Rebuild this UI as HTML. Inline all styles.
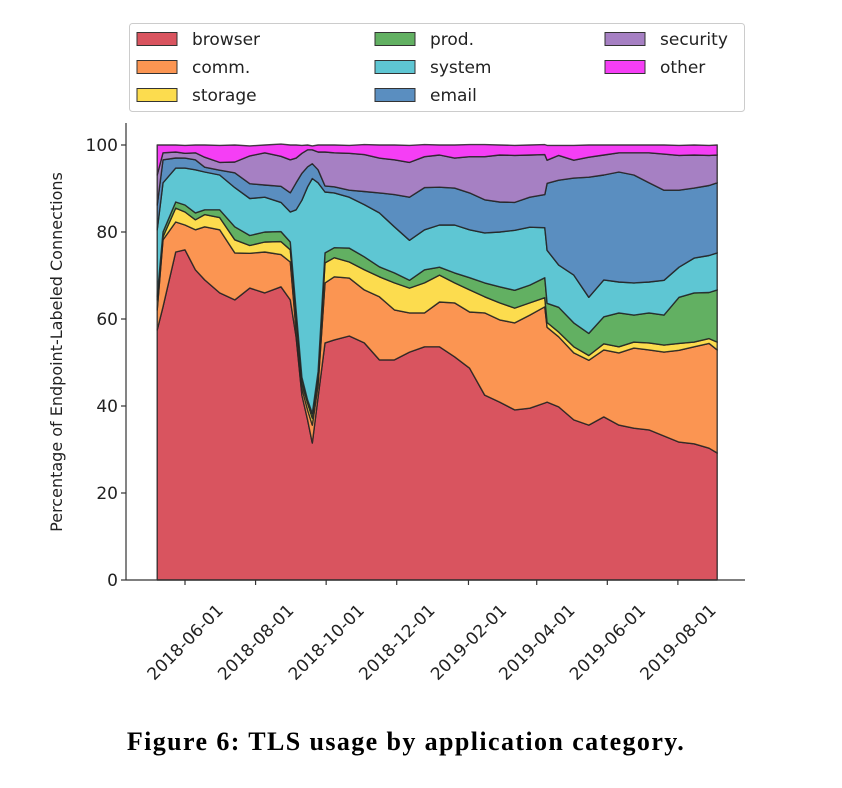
<!DOCTYPE html>
<html><head><meta charset="utf-8">
<style>
body{margin:0;background:#fff;}
svg{display:block;font-family:"DejaVu Sans","Liberation Sans",sans-serif;}
</style></head>
<body>
<svg id="chart" width="842" height="788" viewBox="0 0 842 788" xmlns="http://www.w3.org/2000/svg">
  <g id="areas"></g>
  <g id="axes"></g>
  <g id="legend"></g>
  <text x="62" y="352" font-size="16" text-anchor="middle" fill="#222" transform="rotate(-90 62 352)">Percentage of Endpoint-Labeled Connections</text>
  <text x="406" y="750" font-size="26" font-weight="bold" text-anchor="middle" fill="#000" letter-spacing="1.4" style="font-family:'Liberation Serif',serif">Figure 6: TLS usage by application category.</text>
</svg>
<script>
const startDate = "2018-05-08";
const dayOffsets = [0,5,16,24,33,41,54,67,80,93,107,115,120,125,130,134,139,145,153,166,179,192,205,218,231,244,257,270,283,296,309,322,335,337,347,360,373,386,399,412,425,438,451,464,477,484];
const categories = ["browser","comm.","storage","prod.","system","email","security","other"];
const browser = [57.5,62.8,75.4,75.9,71.3,69.0,66.0,64.4,67.1,66.0,67.4,64.4,55.9,42.5,36.8,31.5,42.1,54.5,55.2,56.1,54.5,50.6,50.6,52.4,53.6,53.6,51.3,48.7,42.5,40.9,39.1,39.5,40.7,40.9,39.8,36.8,35.6,37.5,35.6,34.9,34.5,33.1,31.7,31.3,30.3,29.2];
const comm = [4.6,15.4,6.9,5.7,9.2,12.2,14.5,10.8,8.0,9.4,7.4,8.7,1.6,1.6,2.3,4.1,2.8,13.8,14.5,13.3,12.2,14.5,11.5,9.0,7.8,10.3,12.4,12.9,18.9,18.9,20.0,21.4,22.1,17.2,16.1,15.4,14.9,15.4,16.6,18.4,18.4,19.3,21.1,22.3,24.1,23.7];
const storage = [2.3,0.7,3.2,3.0,2.3,2.8,2.8,3.0,1.8,2.3,3.0,2.8,3.0,1.1,1.6,1.6,1.6,4.6,4.4,3.7,4.6,4.6,6.2,5.7,6.9,6.2,4.6,5.1,3.7,3.9,3.4,2.8,2.1,1.1,1.1,1.4,1.1,1.4,1.4,1.4,1.6,1.6,1.6,1.1,1.1,1.8];
const prod = [0.7,1.1,1.4,1.6,1.6,1.1,1.8,3.0,2.3,2.3,2.3,1.8,1.6,1.4,0.7,1.1,1.4,2.3,2.3,3.2,3.0,2.3,2.3,1.8,3.0,1.8,2.3,2.8,3.2,3.7,4.1,4.1,4.6,4.4,5.7,5.5,5.1,6.2,7.8,6.2,6.9,6.9,10.6,11.3,10.6,12.0];
const system = [15.4,11.3,7.8,8.5,9.9,8.7,8.0,9.0,8.5,8.0,6.7,6.9,23.0,40.7,49.0,54.0,43.4,14.0,12.6,11.7,12.0,12.4,10.6,9.2,9.2,9.7,11.0,11.0,11.5,12.6,13.8,13.3,11.5,12.2,9.7,11.0,8.3,8.5,7.1,7.4,7.1,8.0,6.9,8.0,8.5,8.5];
const email = [5.7,5.3,2.3,2.3,2.3,1.1,1.1,3.4,3.4,2.8,3.7,4.4,6.2,6.2,4.6,3.4,3.0,1.4,1.4,1.6,3.0,4.6,7.4,9.9,9.7,8.7,8.5,8.5,7.6,6.9,6.4,6.9,7.6,15.4,19.5,22.3,27.6,24.1,25.3,24.8,22.8,20.7,17.7,16.1,16.1,16.1];
const security = [6.9,1.6,1.4,1.1,1.6,2.3,1.8,2.5,6.4,7.4,6.9,7.6,5.7,4.6,3.9,3.2,4.1,7.8,7.8,8.5,8.5,8.0,8.0,8.0,7.1,7.4,6.9,8.3,9.9,10.8,10.8,9.7,9.2,5.3,5.7,4.1,4.6,4.6,4.4,5.1,6.9,8.3,8.0,7.6,6.9,6.4];
const other = [6.9,1.8,1.6,1.8,1.8,2.8,3.9,3.9,2.3,1.8,2.8,3.4,3.0,1.8,1.1,0.9,1.6,1.6,1.8,1.8,2.3,3.0,3.4,3.9,2.8,2.3,3.0,2.8,2.8,2.3,2.3,2.3,2.3,3.4,2.3,3.4,2.8,2.3,1.8,1.8,1.8,2.1,2.3,2.3,2.3,2.3];
const colors = ["#d9545f","#fb9552","#fcdc4e","#62b062","#5ec6d3","#5a8ec0","#a680c3","#f53ef5"];
const yTicks = [0,20,40,60,80,100];
const xTickLabels = ["2018-06-01","2018-08-01","2018-10-01","2018-12-01","2019-02-01","2019-04-01","2019-06-01","2019-08-01"];

const NS = "http://www.w3.org/2000/svg";
const DAY = 86400000;
const t0 = Date.parse("2018-06-01");
const plotL = 126, plotR = 745, y0px = 580, pxPerUnit = 4.35, pxPerDay = 1.157, tickRef = 185;
function xScale(ms){ return tickRef + (ms - t0) / DAY * pxPerDay; }
function yScale(v){ return y0px - v * pxPerUnit; }
const startMs = Date.parse(startDate);
const xs = dayOffsets.map(d => xScale(startMs + d * DAY));
const series = [browser, comm, storage, prod, system, email, security, other];

function mk(tag, attrs, parent){
  const e = document.createElementNS(NS, tag);
  for (const k in attrs) e.setAttribute(k, attrs[k]);
  parent.appendChild(e);
  return e;
}

const areas = document.getElementById("areas");
let base = xs.map(() => 0);
series.forEach((vals, si) => {
  const top = base.map((b, i) => b + vals[i]);
  let d = "M" + xs[0].toFixed(1) + "," + yScale(base[0]).toFixed(1);
  for (let i = 0; i < xs.length; i++) d += "L" + xs[i].toFixed(1) + "," + yScale(top[i]).toFixed(1);
  for (let i = xs.length - 1; i >= 0; i--) d += "L" + xs[i].toFixed(1) + "," + yScale(base[i]).toFixed(1);
  d += "Z";
  const p = mk("path", {d: d, fill: colors[si], stroke: "#222", "stroke-width": "1.4", "stroke-opacity": "0.85", "stroke-linejoin": "round"}, areas);
  
  
  base = top;
});

const axes = document.getElementById("axes");
const ls = mk("line", {x1: plotL, y1: 123, x2: plotL, y2: y0px, stroke: "#333", "stroke-width": "1.2"}, axes);


const bs = mk("line", {x1: plotL, y1: y0px, x2: plotR, y2: y0px, stroke: "#333", "stroke-width": "1.2"}, axes);


yTicks.forEach(v => {
  const y = yScale(v);
  const tk = mk("line", {x1: plotL - 5, y1: y, x2: plotL, y2: y, stroke: "#333", "stroke-width": "1.2"}, axes);
  
  
  const tx = mk("text", {x: plotL - 8, y: y + 6, "font-size": "17", "text-anchor": "end", fill: "#222"}, axes);
  tx.textContent = v;
  
  
});
xTickLabels.forEach(lbl => {
  const x = xScale(Date.parse(lbl));
  const tk = mk("line", {x1: x, y1: y0px, x2: x, y2: y0px + 5, stroke: "#333", "stroke-width": "1.2"}, axes);
  
  
  const cy = 642;
  const tx = mk("text", {x: x, y: cy + 6, "font-size": "17", "text-anchor": "middle", fill: "#222", transform: "rotate(-45 " + x + " " + cy + ")"}, axes);
  tx.textContent = lbl;
  
  
});

const legend = document.getElementById("legend");
const lb = mk("rect", {x: 129.5, y: 23.5, width: 615, height: 88, rx: 3, fill: "#fff", stroke: "#ccc", "stroke-width": "1"}, legend);


const colX = [137, 375, 605], rowY = [39, 67, 95];
categories.forEach((c, i) => {
  const col = Math.floor(i / 3), row = i % 3;
  const g = mk("g", {}, legend);
  
  
  mk("rect", {x: colX[col], y: rowY[row] - 6.5, width: 40, height: 13, fill: colors[i], stroke: "#333", "stroke-width": "1"}, g);
  const t = mk("text", {x: colX[col] + 55, y: rowY[row] + 6, "font-size": "17", fill: "#222"}, g);
  t.textContent = c;
});
</script>
</body></html>
